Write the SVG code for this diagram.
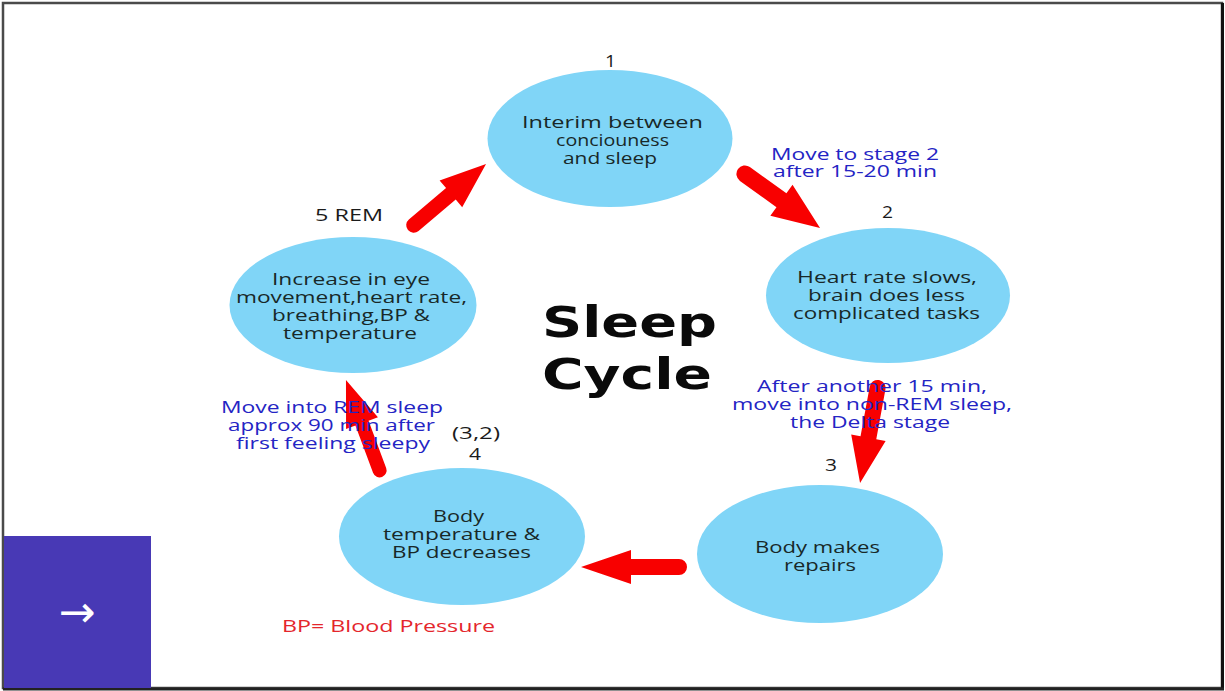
<svg xmlns="http://www.w3.org/2000/svg" width="1225" height="691" viewBox="0 0 1225 691">
<style>
.node{fill:#80d5f7}
.nt{font-family:"Open Sans","DejaVu Sans",sans-serif;font-size:17px;fill:#182828}
.lbl{font-family:"Open Sans","DejaVu Sans",sans-serif;font-size:16px;fill:#1b1b1b}
.ann{font-family:"Open Sans","DejaVu Sans",sans-serif;font-size:17px;fill:#2424c4}
.arrow{fill:#f80000}
.title{font-family:"DejaVu Sans","Liberation Sans",sans-serif;font-size:43px;font-weight:bold;fill:#0a0a0a}
.note{font-family:"Open Sans","DejaVu Sans",sans-serif;font-size:17px;fill:#e4262c}
</style>
<rect x="0" y="0" width="1225" height="691" fill="#ffffff"/>
<g id="frame">
<rect x="3" y="3" width="1219" height="685" fill="none" stroke="#4a4a4a" stroke-width="2.5"/>
<line x1="1222.5" y1="3" x2="1222.5" y2="689.5" stroke="#111" stroke-width="3"/>
<line x1="3" y1="689" x2="1224" y2="689" stroke="#222" stroke-width="3"/>
</g>
<g id="connectors">
<path class="arrow" transform="translate(413.7,225.2) rotate(-40.2)" d="M0,-7.5 L48.7,-7.5 L48.7,-17.5 L94.7,0 L48.7,17.5 L48.7,7.5 L0,7.5 A7.5,7.5 0 0 1 0,-7.5 Z"/>
<path class="arrow" transform="translate(744.9,174) rotate(35.7)" d="M0,-8.5 L45,-8.5 L45,-19 L92.5,0 L45,19 L45,8.5 L0,8.5 A8.5,8.5 0 0 1 0,-8.5 Z"/>
<path class="arrow" transform="translate(877.6,387.9) rotate(100.45)" d="M0,-8 L50.7,-8 L50.7,-17.5 L96.7,0 L50.7,17.5 L50.7,8 L0,8 A8,8 0 0 1 0,-8 Z"/>
<path class="arrow" transform="translate(679,567) rotate(180)" d="M0,-8 L48,-8 L48,-17 L98,0 L48,17 L48,8 L0,8 A8,8 0 0 1 0,-8 Z"/>
<path class="arrow" transform="translate(379.6,470.4) rotate(-110.4)" d="M0,-7 L50.5,-7 L50.5,-17 L96.5,0 L50.5,17 L50.5,7 L0,7 A7,7 0 0 1 0,-7 Z"/>
<text class="ann" x="771" y="160" textLength="168" lengthAdjust="spacingAndGlyphs">Move to stage 2</text>
<text class="ann" x="773" y="177" textLength="164" lengthAdjust="spacingAndGlyphs">after 15-20 min</text>
<text class="ann" x="757" y="392" textLength="230" lengthAdjust="spacingAndGlyphs">After another 15 min,</text>
<text class="ann" x="732" y="410" textLength="280" lengthAdjust="spacingAndGlyphs">move into non-REM sleep,</text>
<text class="ann" x="790" y="428" textLength="160" lengthAdjust="spacingAndGlyphs">the Delta stage</text>
<text class="ann" x="221" y="413" textLength="222" lengthAdjust="spacingAndGlyphs">Move into REM sleep</text>
<text class="ann" x="228" y="431" textLength="207" lengthAdjust="spacingAndGlyphs">approx 90 min after</text>
<text class="ann" x="236" y="449" textLength="194" lengthAdjust="spacingAndGlyphs">first feeling sleepy</text>
</g>
<g id="node1">
<ellipse class="node" cx="610" cy="138.5" rx="122.5" ry="68.5"/>
<text class="lbl" x="605" y="67" textLength="11" lengthAdjust="spacingAndGlyphs">1</text>
<text class="nt" x="522" y="128" textLength="181" lengthAdjust="spacingAndGlyphs">Interim between</text>
<text class="nt" x="556" y="146" textLength="113" lengthAdjust="spacingAndGlyphs">conciouness</text>
<text class="nt" x="563" y="164" textLength="94" lengthAdjust="spacingAndGlyphs">and sleep</text>
</g>
<g id="node2">
<ellipse class="node" cx="888" cy="295.5" rx="122" ry="67.5"/>
<text class="lbl" x="882" y="218" textLength="11" lengthAdjust="spacingAndGlyphs">2</text>
<text class="nt" x="797" y="283" textLength="180" lengthAdjust="spacingAndGlyphs">Heart rate slows,</text>
<text class="nt" x="808" y="301" textLength="157" lengthAdjust="spacingAndGlyphs">brain does less</text>
<text class="nt" x="793" y="319" textLength="187" lengthAdjust="spacingAndGlyphs">complicated tasks</text>
</g>
<g id="node3">
<ellipse class="node" cx="820" cy="554" rx="123" ry="69"/>
<text class="lbl" x="825" y="471" textLength="12" lengthAdjust="spacingAndGlyphs">3</text>
<text class="nt" x="755" y="553" textLength="125" lengthAdjust="spacingAndGlyphs">Body makes</text>
<text class="nt" x="784" y="571" textLength="72" lengthAdjust="spacingAndGlyphs">repairs</text>
</g>
<g id="node4">
<ellipse class="node" cx="462" cy="536.5" rx="123" ry="68.5"/>
<text class="lbl" x="452" y="439" textLength="48" lengthAdjust="spacingAndGlyphs">(3,2)</text>
<text class="lbl" x="469" y="460" textLength="12" lengthAdjust="spacingAndGlyphs">4</text>
<text class="nt" x="433" y="522" textLength="51" lengthAdjust="spacingAndGlyphs">Body</text>
<text class="nt" x="383" y="540" textLength="157" lengthAdjust="spacingAndGlyphs">temperature &amp;</text>
<text class="nt" x="392" y="558" textLength="139" lengthAdjust="spacingAndGlyphs">BP decreases</text>
</g>
<g id="node5">
<ellipse class="node" cx="353" cy="305" rx="123.5" ry="68"/>
<text class="lbl" x="315" y="221" textLength="68" lengthAdjust="spacingAndGlyphs">5 REM</text>
<text class="nt" x="272" y="285" textLength="158" lengthAdjust="spacingAndGlyphs">Increase in eye</text>
<text class="nt" x="236" y="303" textLength="231" lengthAdjust="spacingAndGlyphs">movement,heart rate,</text>
<text class="nt" x="272" y="321" textLength="158" lengthAdjust="spacingAndGlyphs">breathing,BP &amp;</text>
<text class="nt" x="283" y="339" textLength="134" lengthAdjust="spacingAndGlyphs">temperature</text>
</g>
<g id="title">
<text class="title" x="542" y="337" textLength="175" lengthAdjust="spacingAndGlyphs">Sleep</text>
<text class="title" x="542" y="389" textLength="170" lengthAdjust="spacingAndGlyphs">Cycle</text>
</g>
<text class="note" x="282" y="632" textLength="213" lengthAdjust="spacingAndGlyphs">BP= Blood Pressure</text>
<g id="navbox">
<rect x="4" y="536" width="147" height="152" fill="#4839b5"/>
<text x="77" y="611" font-family="DejaVu Sans,sans-serif" font-size="44" fill="#ffffff" text-anchor="middle" dominant-baseline="central">→</text>
</g>
</svg>
